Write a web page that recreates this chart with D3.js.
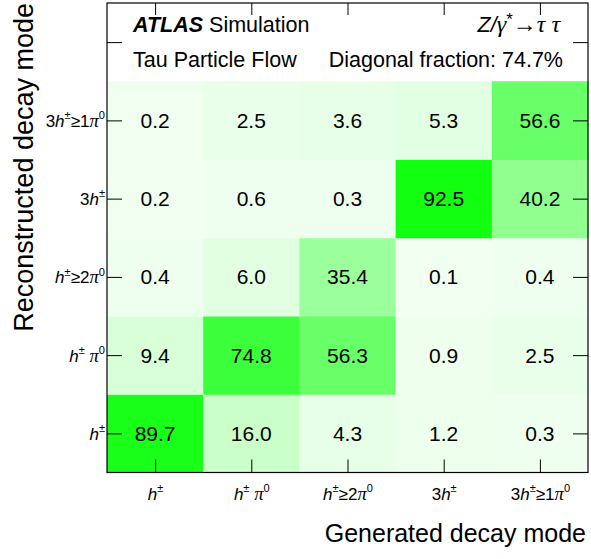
<!DOCTYPE html>
<html><head><meta charset="utf-8">
<script src="https://cdn.jsdelivr.net/npm/d3@7"></script>
<style>body{margin:0;background:#fff}svg{display:block}text{font-family:"Liberation Sans",Arial,sans-serif}</style>
</head><body>
<script>
const genModes = ["h^±", "h^± π^0", "h^±≥2π^0", "3h^±", "3h^±≥1π^0"];
const recoModes = ["h^±", "h^± π^0", "h^±≥2π^0", "3h^±", "3h^±≥1π^0"];
// rows: reconstructed (bottom to top), columns: generated
const row_h      = [89.7, 16.0, 4.3, 1.2, 0.3];
const row_hpi0   = [9.4, 74.8, 56.3, 0.9, 2.5];
const row_h2pi0  = [0.4, 6.0, 35.4, 0.1, 0.4];
const row_3h     = [0.2, 0.6, 0.3, 92.5, 40.2];
const row_3hpi0  = [0.2, 2.5, 3.6, 5.3, 56.6];
const rows = [row_h, row_hpi0, row_h2pi0, row_3h, row_3hpi0];
const diagFraction = 74.7;

const W = 591, H = 559;
const svg = d3.select("body").append("svg").attr("width", W).attr("height", H);
const L = 107, R = 588, T = 3, B = 472.5;
const x = d3.scaleLinear().domain([-0.5, 4.5]).range([L, R]);
const y = d3.scaleLinear().domain([-0.5, 5.5]).range([B, T]);
const color = d3.scaleLinear().domain([0, 100]).range(["#f0fff0", "#00ff00"]);

const cells = [];
rows.forEach((r, j) => r.forEach((v, i) => cells.push({i, j, v})));

svg.append("rect").attr("x", L).attr("y", T).attr("width", R - L).attr("height", B - T).attr("fill", "#fff");
svg.append("g").selectAll("rect").data(cells).join("rect")
  .attr("x", d => x(d.i - 0.5)).attr("y", d => y(d.j + 0.5))
  .attr("width", d => x(d.i + 0.5) - x(d.i - 0.5) + 0.5)
  .attr("height", d => y(d.j - 0.5) - y(d.j + 0.5) + 0.5)
  .attr("fill", d => color(d.v));
svg.append("g").selectAll("text").data(cells).join("text")
  .attr("x", d => x(d.i)).attr("y", d => y(d.j)).attr("dy", "0.36em")
  .attr("text-anchor", "middle").attr("font-size", 21).attr("fill", "#000")
  .text(d => d.v.toFixed(1));

function rich(sel, str, size) {
  sel.text(null);
  const toks = [];
  for (let k = 0; k < str.length; k++) {
    let c = str[k];
    if (c === "^") { toks.push({c: str[k + 1], sup: true}); k++; }
    else toks.push({c, sup: false});
  }
  let up = false;
  toks.forEach(t => {
    const ts = sel.append("tspan").text(t.c);
    if (t.c === "h") ts.attr("font-style", "italic");
    if (t.c === "π") ts.attr("font-style", "italic").attr("font-family", "'Liberation Serif',serif").attr("font-size", size * 1.1);
    if (t.sup && !up) { ts.attr("dy", -size * 0.45).attr("font-size", size * 0.65); up = true; }
    else if (t.sup) ts.attr("font-size", size * 0.65);
    else if (up) { ts.attr("dy", size * 0.45); up = false; }
  });
}

const fs = 17;
const xAx = svg.append("g").attr("transform", `translate(0,${B})`)
  .call(d3.axisBottom(x).tickValues([0,1,2,3,4]).tickSizeInner(-13).tickSizeOuter(0).tickPadding(12));
xAx.selectAll("text").each(function(d) { rich(d3.select(this), genModes[d], fs); })
  .attr("font-size", fs).attr("font-family", "'Liberation Sans',Arial,sans-serif").attr("dy", "0.9em");
const xTop = svg.append("g").attr("transform", `translate(0,${T})`)
  .call(d3.axisTop(x).tickValues([0,1,2,3,4]).tickSizeInner(-12).tickSizeOuter(0).tickFormat(""));
const yAx = svg.append("g").attr("transform", `translate(${L},0)`)
  .call(d3.axisLeft(y).tickValues([0,1,2,3,4,5]).tickSizeInner(-15).tickSizeOuter(0).tickPadding(2));
yAx.selectAll("text").each(function(d) { if (d < 5) rich(d3.select(this), recoModes[d], fs); else d3.select(this).text(""); })
  .attr("font-size", fs).attr("font-family", "'Liberation Sans',Arial,sans-serif").attr("dy", "0.35em");
const yR = svg.append("g").attr("transform", `translate(${R},0)`)
  .call(d3.axisRight(y).tickValues([0,1,2,3,4,5]).tickSizeInner(-15).tickSizeOuter(0).tickFormat(""));
svg.selectAll(".domain").remove();
svg.selectAll(".tick line").attr("stroke", "#000");

svg.append("rect").attr("x", L).attr("y", T).attr("width", R - L).attr("height", B - T)
  .attr("fill", "none").attr("stroke", "#000").attr("stroke-width", 1.2);

// header
const hs = 21.5;
const t1 = svg.append("text").attr("x", 133).attr("y", 32).attr("font-size", hs);
t1.append("tspan").attr("font-weight", "bold").attr("font-style", "italic").text("ATLAS");
t1.append("tspan").text(" Simulation");
svg.append("text").attr("x", 133).attr("y", 67).attr("font-size", hs).text("Tau Particle Flow");
svg.append("text").attr("x", 563).attr("y", 67).attr("font-size", hs).attr("text-anchor", "end")
  .text(`Diagonal fraction: ${diagFraction}%`);
const z = svg.append("text").attr("x", 560).attr("y", 32).attr("font-size", hs).attr("text-anchor", "end");
z.append("tspan").attr("font-style", "italic").text("Z");
z.append("tspan").attr("font-style", "italic").text("/");
z.append("tspan").attr("font-style", "italic").attr("font-family", "'Liberation Serif',serif").attr("font-size", 24).text("γ");
z.append("tspan").attr("font-size", 17).attr("dy", -7).text("*");
z.append("tspan").attr("dy", 7).attr("font-family", "'Liberation Serif',serif").attr("font-size", 24).text("→");
z.append("tspan").attr("font-style", "italic").attr("font-family", "'Liberation Serif',serif").attr("font-size", 24).text("τ τ");

// axis titles
svg.append("text").attr("x", R - 2).attr("y", 542).attr("text-anchor", "end").attr("font-size", 25)
  .text("Generated decay mode");
svg.append("text").attr("transform", `translate(33,${T})rotate(-90)`).attr("text-anchor", "end").attr("font-size", 27)
  .text("Reconstructed decay mode");
</script>
</body></html>
